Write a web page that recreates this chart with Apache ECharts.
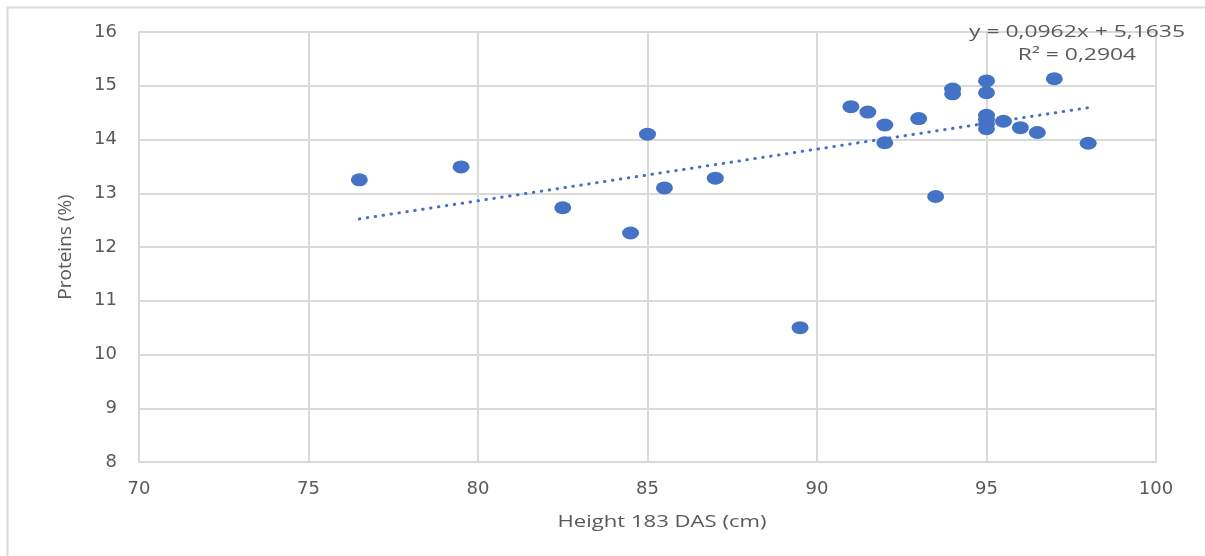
<!DOCTYPE html>
<html>
<head>
<meta charset="utf-8">
<script src="https://cdn.jsdelivr.net/npm/echarts@6/dist/echarts.min.js"></script>
<style>
  html, body { margin: 0; padding: 0; background: #fff; }
  #chart { width: 1205px; height: 556px; }
</style>
</head>
<body>
<div id="chart"></div>
<script>
// Plant height at 183 days after sowing (cm) vs. protein content (%)
const heights = [76.5, 79.5, 82.5, 84.5, 85, 85.5, 87, 89.5, 91, 91.5, 92, 92, 93, 93.5,
                 94, 94, 95, 95, 95, 95, 95, 95, 95.5, 96, 96.5, 97, 98];
const proteins = [13.25, 13.49, 12.73, 12.26, 14.1, 13.1, 13.28, 10.5, 14.61, 14.51, 14.27, 13.94, 14.39, 12.94,
                  14.94, 14.85, 15.09, 14.87, 14.45, 14.37, 14.29, 14.2, 14.34, 14.22, 14.13, 15.13, 13.93];

// Linear trend line (as printed on the chart)
const slope = 0.0962;
const intercept = 5.1635;
const r2 = 0.2904;
const trendRange = [76.5, 98];

const xTicks = { min: 70, max: 100, interval: 5 };
const yTicks = { min: 8, max: 16, interval: 1 };
const xTitle = 'Height 183 DAS (cm)';
const yTitle = 'Proteins (%)';

const fmt = v => v.toFixed(4).replace('.', ',');
const trendLabel = 'y = ' + fmt(slope) + 'x + ' + fmt(intercept);
const r2Label = 'R\u00b2 = ' + fmt(r2);

const points = heights.map((h, i) => [h, proteins[i]]);
const trend = trendRange.map(x => [x, slope * x + intercept]);

const textColor = '#595959';
const gridColor = '#d9d9d9';
const font = '"Open Sans", "Liberation Sans", sans-serif';
const tickFont = '"DejaVu Sans", "Open Sans", sans-serif';

const chart = echarts.init(document.getElementById('chart'), null, { renderer: 'canvas' });
chart.setOption({
  animation: false,
  backgroundColor: '#fff',
  grid: { left: 139, right: 49, top: 32, bottom: 94, containLabel: false },
  xAxis: {
    type: 'value',
    min: xTicks.min, max: xTicks.max, interval: xTicks.interval,
    axisLine: { show: true, lineStyle: { color: gridColor, width: 2 } },
    axisTick: { show: false },
    axisLabel: { color: textColor, fontSize: 18, fontFamily: tickFont, margin: 18 },
    splitLine: { show: true, lineStyle: { color: gridColor, width: 2 } }
  },
  yAxis: {
    type: 'value',
    min: yTicks.min, max: yTicks.max, interval: yTicks.interval,
    name: yTitle,
    nameLocation: 'middle', nameGap: 64, nameRotate: 90,
    nameTextStyle: { color: textColor, fontSize: 19, fontFamily: font },
    axisLine: { show: true, lineStyle: { color: gridColor, width: 2 } },
    axisTick: { show: false },
    axisLabel: { color: textColor, fontSize: 18, fontFamily: tickFont, margin: 22 },
    splitLine: { show: true, lineStyle: { color: gridColor, width: 2 } }
  },
  series: [
    {
      type: 'line',
      data: trend,
      showSymbol: false,
      symbol: 'none',
      lineStyle: { color: '#4472c4', width: 3, type: [0.5, 7.5], cap: 'round' },
      z: 2
    },
    {
      type: 'scatter',
      data: points,
      symbol: 'circle',
      symbolSize: [17, 13],
      itemStyle: { color: '#4472c4', opacity: 1 },
      z: 3
    }
  ],
  graphic: [
    {
      type: 'rect',
      shape: { x: 7.5, y: 7.5, width: 1220, height: 570 },
      style: { fill: 'none', stroke: gridColor, lineWidth: 2 },
      silent: true, z: -1
    },
    {
      type: 'text',
      x: 662, y: 522, scaleX: 1.3,
      style: { text: xTitle, fill: textColor, fontSize: 17, fontFamily: font,
               align: 'center', verticalAlign: 'middle' },
      z: 10
    },
    {
      type: 'text',
      x: 1077, y: 32, scaleX: 1.43,
      style: { text: trendLabel, fill: textColor, fontSize: 16, fontFamily: font,
               align: 'center', verticalAlign: 'middle' },
      z: 10
    },
    {
      type: 'text',
      x: 1077, y: 55, scaleX: 1.43,
      style: { text: r2Label, fill: textColor, fontSize: 16, fontFamily: font,
               align: 'center', verticalAlign: 'middle' },
      z: 10
    }
  ]
});
</script>
</body>
</html>
